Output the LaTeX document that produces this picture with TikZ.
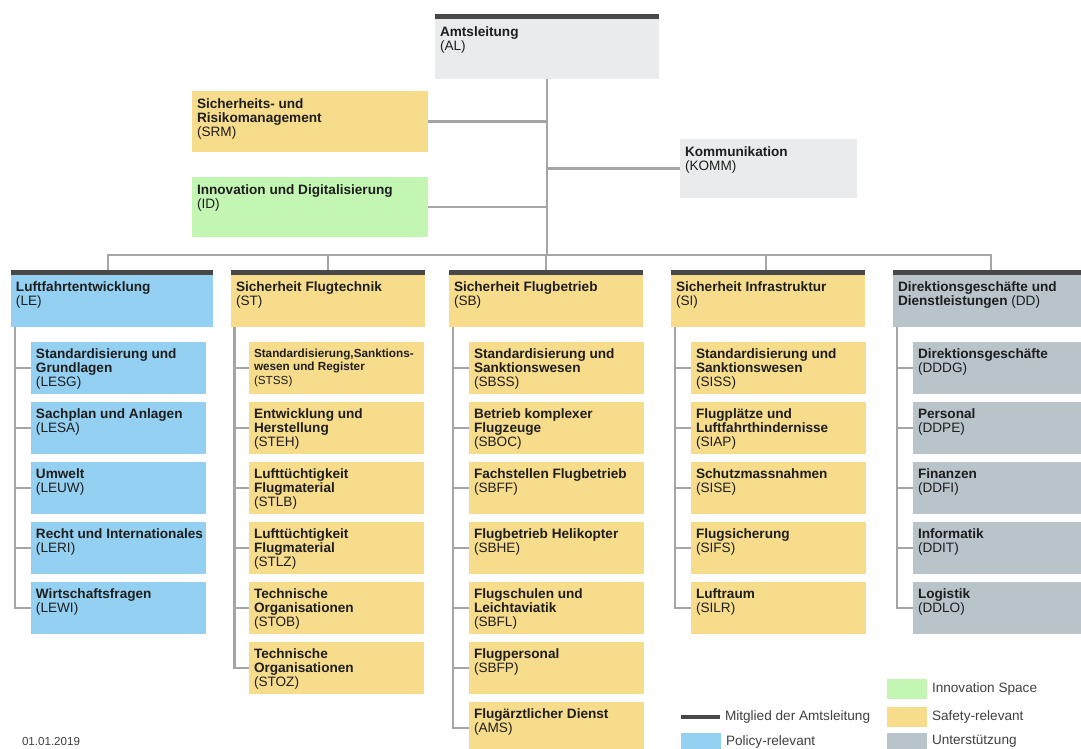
\documentclass[tikz,border=0pt]{standalone}
\usepackage{fontspec}
\setmainfont{Liberation Sans}
\definecolor{alg}{HTML}{E9EBEC}
\definecolor{yel}{HTML}{F7DC8C}
\definecolor{grn}{HTML}{C3F6B2}
\definecolor{blu}{HTML}{94D0F1}
\definecolor{ddg}{HTML}{B8C3CA}
\definecolor{barc}{HTML}{484848}
\definecolor{conc}{HTML}{A5A5A5}
\definecolor{txc}{HTML}{1E1E1E}
\tikzset{
  box/.style={anchor=north west, inner sep=0pt, outer sep=0pt, draw=none},
  txt/.style={inner sep=0pt, outer sep=0pt, align=left, text=txc, font=\fontsize{10.2pt}{10.5pt}\selectfont\bfseries},
  smalltxt/.style={txt, font=\fontsize{8.8pt}{10pt}\selectfont\bfseries},
  lgtxt/.style={inner sep=0pt, outer sep=0pt, anchor=west, text=txc!85!white, font=\fontsize{10.2pt}{10.5pt}\selectfont},
  conn/.style={draw=conc, line width=2.2pt},
  swatch/.style={box, minimum width=40*0.75pt, minimum height=20*0.75pt},
}
\newcommand{\ab}[1]{{\mdseries(#1)}}
% name, fill, x, y, w, h, text dy, text style, text
\newcommand{\orgbox}[9]{%
  \node[box, fill=#2, minimum width=#5*0.75pt, minimum height=#6*0.75pt] (#1) at (#3,#4) {};
  \node[#8, anchor=north west] (#1-t) at ([shift={(5,#7)}]#1.north west) {#9};}
\newcommand{\topbar}[1]{\fill[barc] (#1.north west) rectangle ([yshift=-3.75pt]#1.north east);}
% sub unit: name, fill, x, y, text
\newcommand{\sub}[5]{\orgbox{#1}{#2}{#3}{#4}{175}{52}{7}{txt}{#5}}
\begin{document}
\begin{tikzpicture}[x=0.75pt,y=-0.75pt]
\clip (0,0) rectangle (1081,749);
\fill[white] (0,0) rectangle (1081,749);

% top level
\orgbox{AL}{alg}{435}{14}{224}{65}{13}{txt}{Amtsleitung\\\ab{AL}}
\topbar{AL}
\orgbox{SRM}{yel}{192}{91}{236}{61}{8}{txt}{Sicherheits- und\\Risikomanagement\\\ab{SRM}}
\orgbox{ID}{grn}{192}{177}{236}{60}{8}{txt}{Innovation und Digitalisierung\\\ab{ID}}
\orgbox{KOMM}{alg}{680}{139}{177}{59}{8}{txt}{Kommunikation\\\ab{KOMM}}

% divisions
\orgbox{LE}{blu}{11}{270}{202}{57}{12}{txt}{Luftfahrtentwicklung\\\ab{LE}}
\orgbox{ST}{yel}{231}{270}{194}{57}{12}{txt}{Sicherheit Flugtechnik\\\ab{ST}}
\orgbox{SB}{yel}{449}{270}{194}{57}{12}{txt}{Sicherheit Flugbetrieb\\\ab{SB}}
\orgbox{SI}{yel}{671}{270}{194}{57}{12}{txt}{Sicherheit Infrastruktur\\\ab{SI}}
\orgbox{DD}{ddg}{893}{270}{196}{57}{12}{txt}{Direktionsgeschäfte und\\Dienstleistungen \ab{DD}}
\topbar{LE}\topbar{ST}\topbar{SB}\topbar{SI}\topbar{DD}

% LE units
\sub{LESG}{blu}{31}{342}{Standardisierung und\\Grundlagen\\\ab{LESG}}
\sub{LESA}{blu}{31}{402}{Sachplan und Anlagen\\\ab{LESA}}
\sub{LEUW}{blu}{31}{462}{Umwelt\\\ab{LEUW}}
\sub{LERI}{blu}{31}{522}{Recht und Internationales\\\ab{LERI}}
\sub{LEWI}{blu}{31}{582}{Wirtschaftsfragen\\\ab{LEWI}}

% ST units
\orgbox{STSS}{yel}{249}{342}{175}{52}{7}{smalltxt}{Standardisierung,Sanktions-\\wesen und Register\\\ab{STSS}}
\sub{STEH}{yel}{249}{402}{Entwicklung und\\Herstellung\\\ab{STEH}}
\sub{STLB}{yel}{249}{462}{Lufttüchtigkeit\\Flugmaterial\\\ab{STLB}}
\sub{STLZ}{yel}{249}{522}{Lufttüchtigkeit\\Flugmaterial\\\ab{STLZ}}
\sub{STOB}{yel}{249}{582}{Technische\\Organisationen\\\ab{STOB}}
\sub{STOZ}{yel}{249}{642}{Technische\\Organisationen\\\ab{STOZ}}

% SB units
\sub{SBSS}{yel}{469}{342}{Standardisierung und\\Sanktionswesen\\\ab{SBSS}}
\sub{SBOC}{yel}{469}{402}{Betrieb komplexer\\Flugzeuge\\\ab{SBOC}}
\sub{SBFF}{yel}{469}{462}{Fachstellen Flugbetrieb\\\ab{SBFF}}
\sub{SBHE}{yel}{469}{522}{Flugbetrieb Helikopter\\\ab{SBHE}}
\sub{SBFL}{yel}{469}{582}{Flugschulen und\\Leichtaviatik\\\ab{SBFL}}
\sub{SBFP}{yel}{469}{642}{Flugpersonal\\\ab{SBFP}}
\sub{AMS}{yel}{469}{702}{Flugärztlicher Dienst\\\ab{AMS}}

% SI units
\sub{SISS}{yel}{691}{342}{Standardisierung und\\Sanktionswesen\\\ab{SISS}}
\sub{SIAP}{yel}{691}{402}{Flugplätze und\\Luftfahrthindernisse\\\ab{SIAP}}
\sub{SISE}{yel}{691}{462}{Schutzmassnahmen\\\ab{SISE}}
\sub{SIFS}{yel}{691}{522}{Flugsicherung\\\ab{SIFS}}
\sub{SILR}{yel}{691}{582}{Luftraum\\\ab{SILR}}

% DD units
\sub{DDDG}{ddg}{913}{342}{Direktionsgeschäfte\\\ab{DDDG}}
\sub{DDPE}{ddg}{913}{402}{Personal\\\ab{DDPE}}
\sub{DDFI}{ddg}{913}{462}{Finanzen\\\ab{DDFI}}
\sub{DDIT}{ddg}{913}{522}{Informatik\\\ab{DDIT}}
\sub{DDLO}{ddg}{913}{582}{Logistik\\\ab{DDLO}}

% connectors, top
\coordinate (bus) at (547,255);
\draw[conn] (AL.south) -- (bus);
\draw[conn] (SRM.east) -- (SRM.east -| AL.south);
\draw[conn] (ID.east) -- (ID.east -| AL.south);
\draw[conn] (KOMM.west) -- (KOMM.west -| AL.south);
\draw[conn] ([xshift=-3pt]LE.north) |- (bus);
\draw[conn] (ST.north) |- (bus);
\draw[conn] (SB.north) |- (bus);
\draw[conn] ([xshift=-1.5pt]SI.north) |- (bus);
\draw[conn] (DD.north) |- (bus);

% connectors, units
\foreach \c in {LESG,LESA,LEUW,LERI,LEWI}{\draw[conn] ([xshift=3pt]LE.south west) |- (\c.west);}
\foreach \c in {STSS,STEH,STLB,STLZ,STOB,STOZ}{\draw[conn] ([xshift=2.6pt]ST.south west) |- (\c.west);}
\foreach \c in {SBSS,SBOC,SBFF,SBHE,SBFL,SBFP,AMS}{\draw[conn] ([xshift=3pt]SB.south west) |- (\c.west);}
\foreach \c in {SISS,SIAP,SISE,SIFS,SILR}{\draw[conn] ([xshift=3pt]SI.south west) |- (\c.west);}
\foreach \c in {DDDG,DDPE,DDFI,DDIT,DDLO}{\draw[conn] ([xshift=3pt]DD.south west) |- (\c.west);}

% footer
\node[lgtxt, font=\fontsize{8.7pt}{10pt}\selectfont] (date) at (22,741) {01.01.2019};

% legend
\coordinate (lgA) at (681,717);
\coordinate (lgB) at (720,717);
\draw[barc, line width=3pt] (lgA) -- (lgB);
\node[lgtxt] (lgMt) at (725,717) {Mitglied der Amtsleitung};
\node[swatch, fill=blu] (lgP) at (681,733) {};
\node[lgtxt] (lgPt) at (726,742) {Policy-relevant};
\node[swatch, fill=grn] (lgI) at (887,679) {};
\node[lgtxt] (lgIt) at (932,689) {Innovation Space};
\node[swatch, fill=yel] (lgS) at (887,707) {};
\node[lgtxt] (lgSt) at (932,717) {Safety-relevant};
\node[swatch, fill=ddg] (lgU) at (887,733) {};
\node[lgtxt] (lgUt) at (932,741) {Unterstützung};
\end{tikzpicture}
\end{document}
